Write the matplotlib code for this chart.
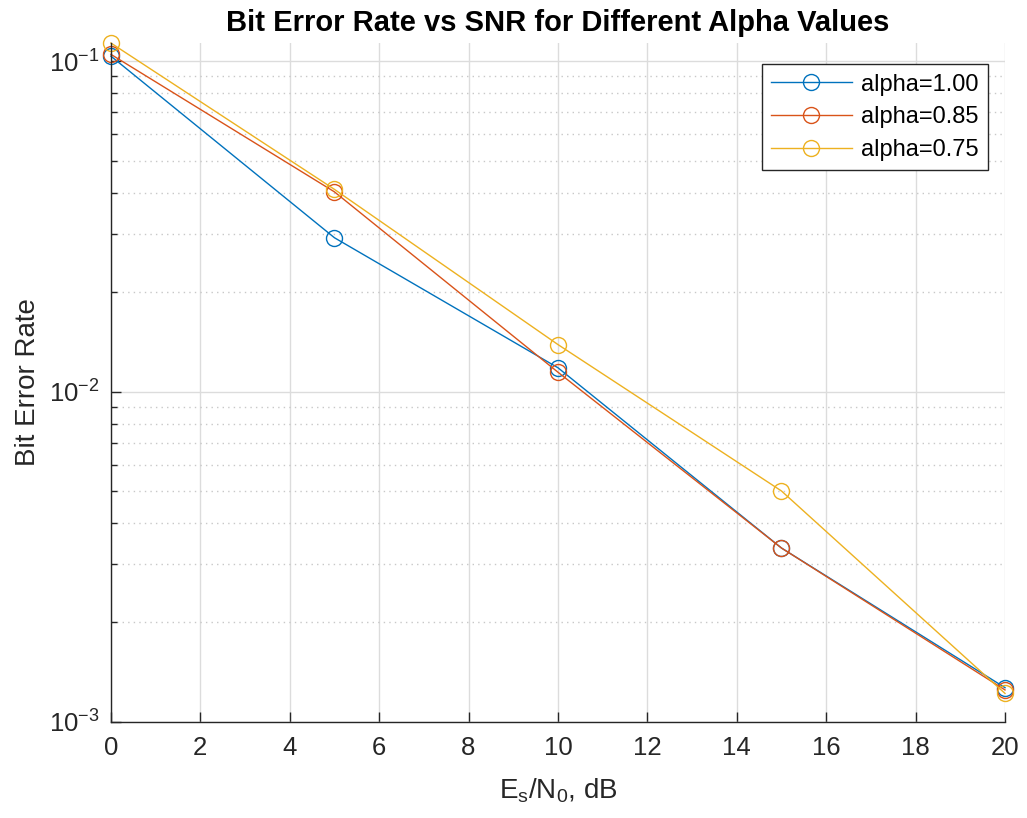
import numpy as np
import matplotlib
matplotlib.use('Agg')
import matplotlib.pyplot as plt
from matplotlib.ticker import LogLocator, NullFormatter, MultipleLocator, FuncFormatter

plt.rcParams['font.family'] = ['Liberation Sans', 'DejaVu Sans']
plt.rcParams['mathtext.fontset'] = 'custom'
plt.rcParams['mathtext.rm'] = 'Liberation Sans'
plt.rcParams['mathtext.it'] = 'Liberation Sans'
plt.rcParams['mathtext.default'] = 'regular'

# data
snr_db = [0, 5, 10, 15, 20]
ber_100 = [0.1035, 0.0292, 0.0118, 0.00336, 0.00127]
ber_085 = [0.1048, 0.0402, 0.01144, 0.00336, 0.00125]
ber_075 = [0.1134, 0.0409, 0.01387, 0.00500, 0.00122]
labels = ['alpha=1.00', 'alpha=0.85', 'alpha=0.75']
colors = ['#0072BD', '#D95319', '#EDB120']

txt = '#262626'

fig = plt.figure(figsize=(10.27, 8.18), dpi=100)
ax = fig.add_axes([0.108, 0.1174, 0.8706, 0.83])

for y, lab, c in zip([ber_100, ber_085, ber_075], labels, colors):
    ax.semilogy(snr_db, y, '-o', color=c, lw=1.0, ms=11.5,
                mfc='none', mew=1.0, label=lab, clip_on=False)

ax.set_xlim(0, 20)
ax.set_ylim(1e-3, 0.1134)
ax.xaxis.set_major_locator(MultipleLocator(2))
ax.yaxis.set_major_locator(LogLocator(base=10, numticks=10))
ax.yaxis.set_major_formatter(
    FuncFormatter(lambda v, p: '$10^{%d}$' % int(round(np.log10(v)))))
ax.yaxis.set_minor_locator(LogLocator(base=10, subs=np.arange(2, 10), numticks=10))
ax.yaxis.set_minor_formatter(NullFormatter())

ax.grid(True, which='major', color='#dcdcdc', lw=1.0, ls='-')
ax.grid(True, which='minor', axis='y', color='#c8c8c8', lw=1.0, ls=(0, (1, 3)))
ax.set_axisbelow(True)

for s in ['top', 'right']:
    ax.spines[s].set_visible(False)
for s in ['left', 'bottom']:
    ax.spines[s].set_color(txt)
    ax.spines[s].set_linewidth(1.0)

ax.tick_params(which='both', direction='in', colors=txt, labelsize=18.5)
ax.tick_params(axis='x', which='major', length=7, width=1.0, pad=10)
ax.tick_params(axis='y', which='major', length=7, width=1.0, pad=8)
ax.tick_params(which='minor', length=4, width=1.0)

ax.set_xlabel('E$_{s}$/N$_{0}$, dB', fontsize=20, color=txt, labelpad=12)
ax.set_ylabel('Bit Error Rate', fontsize=20, color=txt, labelpad=6)
ax.set_title('Bit Error Rate vs SNR for Different Alpha Values',
             fontsize=21, fontweight='bold', color='black', pad=9)

leg = ax.legend(loc='upper right', bbox_to_anchor=(0.981, 0.969), fontsize=17,
                fancybox=False, framealpha=1, edgecolor='#262626',
                handlelength=3.4, borderpad=0.4, labelspacing=0.45,
                borderaxespad=0, handletextpad=0.4)
leg.get_frame().set_linewidth(1.0)

fig.savefig('out.png', dpi=100)
